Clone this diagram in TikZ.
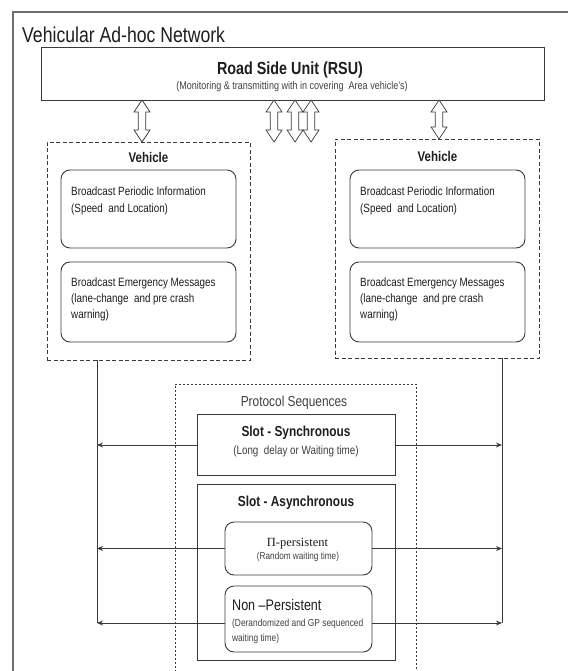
\documentclass[tikz,border=0pt]{standalone}
\usepackage{fontspec}
\setmainfont{Liberation Sans}[FakeStretch=0.82]
\newfontfamily\serifont{Liberation Serif}
\usetikzlibrary{arrows.meta}
\definecolor{ln}{HTML}{3A3A3A}
\definecolor{tx}{HTML}{1E1E1E}
\definecolor{sub}{HTML}{404040}
\definecolor{frm}{HTML}{6E6E6E}
\newcommand\dblarrow[3]{%
  \draw[darr] (#1,#2) -- ++(8,12) -- ++(-4.2,0) -- (#1+3.8,#3-12) -- ++(4.2,0)
    -- (#1,#3) -- ++(-8,-12) -- ++(4.2,0) -- (#1-3.8,#2+12) -- ++(-4.2,0) -- cycle;}
\begin{document}
\begin{tikzpicture}[x=1pt,y=-1pt,
  box/.style={draw=ln, line width=0.9pt, inner sep=0pt},
  rbox/.style={box, rounded corners=9pt},
  vbox/.style={draw=ln, line width=0.9pt, dash pattern=on 4pt off 2.5pt, inner sep=0pt},
  pbox/.style={draw=ln, line width=0.8pt, dash pattern=on 2pt off 2pt, inner sep=0pt},
  darr/.style={draw=ln, line width=0.7pt, fill=white},
  conn/.style={draw=ln, line width=0.9pt},
  arr/.style={conn, -{Stealth[length=6pt,width=5pt]}},
  lbl/.style={inner sep=0pt, text=tx},
  btxt/.style={lbl, anchor=base west, font=\fontsize{12}{14}\selectfont},
]
\useasboundingbox (0,0) rectangle (567,671);
\fill[white] (0,0) rectangle (567,671);
\draw[draw=frm, line width=1.1pt] (13,12) rectangle (585,690);
\node[lbl, anchor=base west, font=\fontsize{21.5}{24}\selectfont] (title) at (22,43) {Vehicular Ad-hoc Network};

% RSU
\node[box, minimum width=503pt, minimum height=53pt] (rsu) at (292.5,73.5) {};
\node[lbl, anchor=base, font=\bfseries\fontsize{17.5}{20}\selectfont] (rsut) at (290,75) {Road Side Unit (RSU)};
\node[lbl, anchor=base, text=sub, font=\fontsize{11}{13}\selectfont] (rsus) at (292,90) {(Monitoring \& transmitting with in covering\ \ Area vehicle’s)};

% double arrows
\dblarrow{142}{100}{142}
\dblarrow{274}{100}{142}
\dblarrow{295}{100}{142}
\dblarrow{311}{100}{142}
\dblarrow{439}{100}{139}

% vehicles
\node[vbox, minimum width=203pt, minimum height=218pt] (vl) at (148.5,251) {};
\node[vbox, minimum width=204pt, minimum height=219pt] (vr) at (437,248.5) {};
\node[lbl, anchor=base, font=\bfseries\fontsize{14}{16}\selectfont] (vlt) at (148.5,163) {Vehicle};
\node[lbl, anchor=base, font=\bfseries\fontsize{14}{16}\selectfont] (vrt) at (437.5,162) {Vehicle};

\foreach \side/\cx/\tx in {l/148.5/71, r/437.5/360} {
  \node[rbox, minimum width=175pt, minimum height=78pt] (\side p) at (\cx,209) {};
  \node[rbox, minimum width=175pt, minimum height=80pt] (\side e) at (\cx,302) {};
  \node[btxt] (\side p1) at (\tx,195) {Broadcast Periodic Information};
  \node[btxt] (\side p2) at (\tx,212) {(Speed\ \ and Location)};
  \node[btxt] (\side e1) at (\tx,286) {Broadcast Emergency Messages};
  \node[btxt] (\side e2) at (\tx,302) {(lane-change\ \ and pre crash};
  \node[btxt] (\side e3) at (\tx,318) {warning)};
}

% protocol sequences
\node[pbox, minimum width=241pt, minimum height=320pt] (ps) at (295.5,544) {};
\node[lbl, anchor=base, text=sub, font=\fontsize{14.5}{16}\selectfont] (pst) at (294,406) {Protocol Sequences};

\node[box, minimum width=198pt, minimum height=61pt] (ss) at (296,445) {};
\node[lbl, anchor=base, font=\bfseries\fontsize{14.5}{16}\selectfont] (sst) at (296,436) {Slot - Synchronous};
\node[lbl, anchor=base, text=sub, font=\fontsize{12}{14}\selectfont] (sss) at (296,454) {(Long\ \ delay or Waiting time)};

\node[box, minimum width=198pt, minimum height=176pt] (sa) at (296,572) {};
\node[lbl, anchor=base, font=\bfseries\fontsize{14.5}{16}\selectfont] (sat) at (296,506) {Slot - Asynchronous};

\node[rbox, minimum width=147pt, minimum height=53pt] (pp) at (298.5,548.5) {};
\node[lbl, anchor=base, font=\serifont\fontsize{12.5}{14}\selectfont] (ppt) at (297.5,546) {Π-persistent};
\node[lbl, anchor=base, text=sub, font=\fontsize{10}{12}\selectfont] (pps) at (298,559) {(Random waiting time)};

\node[rbox, minimum width=147pt, minimum height=66pt] (np) at (298.5,619) {};
\node[lbl, anchor=base west, font=\fontsize{15.3}{17}\selectfont] (npt) at (232,610) {Non –Persistent};
\node[lbl, anchor=base west, text=sub, font=\fontsize{10.2}{12}\selectfont] (nps1) at (232,626) {(Derandomized and GP sequenced};
\node[lbl, anchor=base west, text=sub, font=\fontsize{10.2}{12}\selectfont] (nps2) at (232,641) {waiting time)};

% side connectors
\coordinate (lend) at (97,623);
\coordinate (rend) at (502,623);
\draw[conn] (lend |- vl.south) -- (lend);
\draw[conn] (rend |- vr.south) -- (rend);
\draw[arr] (ss.west) -- (ss.west -| lend);
\draw[arr] (ss.east) -- (ss.east -| rend);
\draw[arr] (pp.west) -- (pp.west -| lend);
\draw[arr] (pp.east) -- (pp.east -| rend);
\draw[arr] ([yshift=-4pt]np.west) -- (lend);
\draw[arr] ([yshift=-4pt]np.east) -- (rend);
\end{tikzpicture}
\end{document}
